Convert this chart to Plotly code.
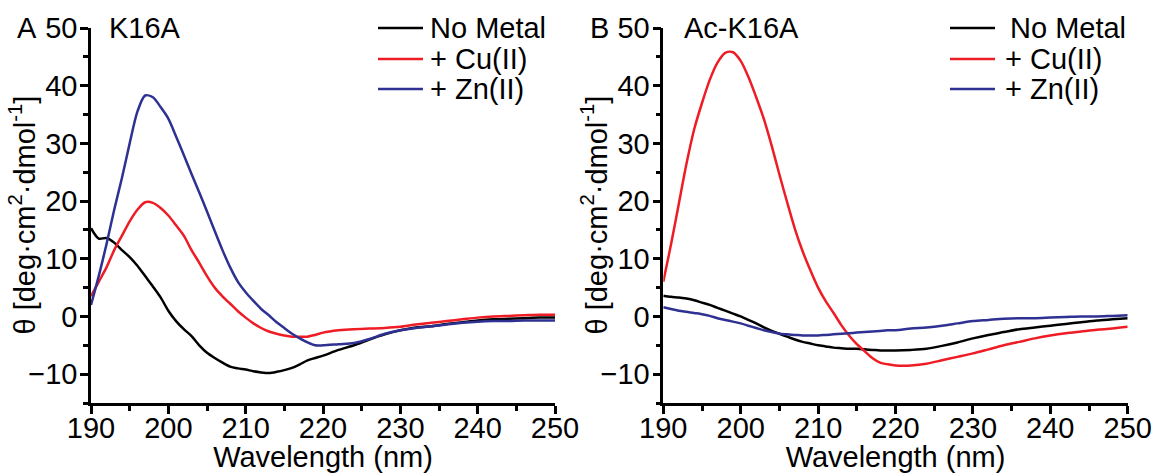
import plotly.graph_objects as go

# ---------------- data ----------------
wl = [190, 191, 192, 193, 194, 195, 196, 197, 198, 199, 200, 201, 202, 203, 204,
      205, 206, 207, 208, 209, 210, 211, 212, 213, 214, 215, 216, 217, 218, 219,
      220, 222, 224, 226, 228, 230, 232, 234, 236, 238, 240, 242, 244, 246, 248, 250]

# Panel A: K16A
a_none = [15.3, 13.5, 13.6, 12.8, 11.5, 10.3, 8.8, 7.0, 5.2, 3.3, 1.0, -0.8, -2.2, -3.4, -5.0,
          -6.3, -7.2, -8.0, -8.7, -9.0, -9.2, -9.5, -9.7, -9.8, -9.6, -9.3, -8.9, -8.3, -7.6, -7.2,
          -6.8, -5.8, -5.0, -4.0, -3.1, -2.4, -1.9, -1.7, -1.3, -1.0, -0.7, -0.5, -0.4, -0.3, -0.2, -0.2]
a_cu = [3.5, 6.0, 8.5, 11.5, 14.0, 16.5, 18.5, 19.8, 19.7, 18.8, 17.5, 15.8, 14.0, 11.5, 9.3,
        7.0, 5.0, 3.5, 2.2, 0.9, -0.2, -1.2, -2.0, -2.6, -3.0, -3.3, -3.5, -3.5, -3.5, -3.2,
        -2.8, -2.4, -2.2, -2.1, -2.0, -1.8, -1.4, -1.1, -0.8, -0.5, -0.2, 0.0, 0.1, 0.2, 0.3, 0.3]
a_zn = [2.0, 7.0, 12.5, 18.5, 24.0, 30.0, 35.5, 38.3, 38.0, 36.3, 34.3, 31.2, 28.0, 24.7, 21.5,
        18.2, 14.8, 11.5, 8.5, 6.0, 4.2, 2.7, 1.3, 0.2, -1.0, -2.0, -3.0, -3.8, -4.5, -5.0,
        -5.0, -4.8, -4.6, -3.9, -3.0, -2.4, -2.0, -1.7, -1.4, -1.1, -0.9, -0.8, -0.8, -0.7, -0.7, -0.7]

# Panel B: Ac-K16A
b_none = [3.6, 3.4, 3.3, 3.1, 2.8, 2.4, 2.0, 1.5, 1.0, 0.5, 0.0, -0.6, -1.2, -1.9, -2.5,
          -3.0, -3.5, -4.0, -4.4, -4.7, -5.0, -5.2, -5.4, -5.5, -5.6, -5.6, -5.7, -5.8, -5.9, -5.9,
          -5.9, -5.8, -5.6, -5.1, -4.5, -3.8, -3.2, -2.7, -2.2, -1.9, -1.6, -1.3, -1.0, -0.7, -0.5, -0.3]
b_cu = [6.0, 12.5, 19.5, 26.5, 32.5, 37.0, 41.0, 44.0, 45.7, 45.8, 44.3, 41.5, 38.0, 34.2, 29.6,
        24.6, 19.8, 15.2, 11.3, 8.0, 5.0, 2.6, 0.6, -1.5, -3.3, -4.8, -6.0, -7.2, -8.0, -8.3,
        -8.5, -8.5, -8.2, -7.6, -7.0, -6.4, -5.7, -5.0, -4.4, -3.8, -3.3, -2.9, -2.6, -2.3, -2.1, -1.8]
b_zn = [1.6, 1.3, 1.0, 0.8, 0.6, 0.4, 0.1, -0.3, -0.6, -0.9, -1.2, -1.6, -2.0, -2.4, -2.7,
        -3.0, -3.1, -3.2, -3.3, -3.3, -3.3, -3.2, -3.1, -3.0, -2.9, -2.8, -2.7, -2.6, -2.5, -2.4,
        -2.4, -2.1, -1.9, -1.6, -1.2, -0.8, -0.6, -0.4, -0.3, -0.3, -0.2, -0.1, 0.0, 0.0, 0.1, 0.2]

series_names = ["No Metal", "+ Cu(II)", "+ Zn(II)"]
panel_titles = ["K16A", "Ac-K16A"]
panel_letters = ["A", "B"]
x_title = "Wavelength (nm)"
y_title = "θ [deg·cm<sup>2</sup>·dmol<sup>-1</sup>]"

# ---------------- styling ----------------
W, H = 1157, 473
FONT = "Arial, 'Liberation Sans', sans-serif"
FS = 29
colors = ["#000000", "#ee1c25", "#2e3192"]

fig = go.Figure()
panels = [(a_none, a_cu, a_zn), (b_none, b_cu, b_zn)]
for p, data in enumerate(panels):
    xa = "x" if p == 0 else "x2"
    ya = "y" if p == 0 else "y2"
    for s, ys in enumerate(data):
        fig.add_trace(go.Scatter(x=wl, y=ys, mode="lines", xaxis=xa, yaxis=ya,
                                 line=dict(color=colors[s], width=2.5, shape="spline", smoothing=0.8),
                                 showlegend=False, name=series_names[s]))

def px_x(v):
    return v / W

def px_y(v):
    return 1 - v / H

ydom = [px_y(403), px_y(28)]
xdoms = [[px_x(91), px_x(555)], [px_x(663.3), px_x(1127.7)]]

axis_common = dict(showline=True, linecolor="black", linewidth=2.5, ticks="outside",
                   ticklen=8, tickwidth=2.5, tickcolor="black", showgrid=False, zeroline=False,
                   automargin=False,
                   tickfont=dict(family=FONT, size=FS, color="black"),
                   title_font=dict(family=FONT, size=FS, color="black"))

for p in range(2):
    sfx = "" if p == 0 else "2"
    fig.update_layout(**{
        "xaxis" + sfx: dict(axis_common, domain=xdoms[p], range=[190, 250], dtick=10, tick0=190,
                            anchor="y" + sfx, title=dict(text=x_title, standoff=0),
                            ticklabelstandoff=-11,
                            minor=dict(dtick=5, ticklen=5, tickwidth=2.5, tickcolor="black", ticks="outside")),
        "yaxis" + sfx: dict(axis_common, domain=ydom, range=[-15, 50], dtick=10, tick0=0,
                            anchor="x" + sfx, ticklabelstandoff=-3,
                            minor=dict(dtick=5, ticklen=5, tickwidth=2.5, tickcolor="black", ticks="outside")),
    })

annotations = []
shapes = []
letter_x = [15, 588]
title_x = [107, 682]
ytitle_x = [23, 595]
for p in range(2):
    annotations.append(dict(text=panel_letters[p], x=px_x(letter_x[p]), y=px_y(28), xref="paper", yref="paper",
                            xanchor="left", yanchor="middle", showarrow=False,
                            font=dict(family=FONT, size=FS, color="black")))
    annotations.append(dict(text=panel_titles[p], x=px_x(title_x[p]), y=px_y(28), xref="paper", yref="paper",
                            xanchor="left", yanchor="middle", showarrow=False,
                            font=dict(family=FONT, size=FS, color="black")))
    annotations.append(dict(text=y_title, x=px_x(ytitle_x[p]), y=px_y(215.5), xref="paper", yref="paper",
                            xanchor="center", yanchor="middle", textangle=-90, showarrow=False,
                            font=dict(family=FONT, size=FS, color="black")))

# legends (drawn per panel)
leg_line = [(378, 423), (950, 995)]
leg_text = [[428, 428, 428], [1008, 1003, 1003]]
leg_rows = [28, 59, 89]
for p in range(2):
    for s in range(3):
        shapes.append(dict(type="line", xref="paper", yref="paper",
                           x0=px_x(leg_line[p][0]), x1=px_x(leg_line[p][1]),
                           y0=px_y(leg_rows[s]), y1=px_y(leg_rows[s]),
                           line=dict(color=colors[s], width=2.5)))
        annotations.append(dict(text=series_names[s], x=px_x(leg_text[p][s]), y=px_y(leg_rows[s]),
                                xref="paper", yref="paper", xanchor="left", yanchor="middle",
                                showarrow=False, font=dict(family=FONT, size=FS, color="black")))

fig.update_layout(width=W, height=H, margin=dict(l=0, r=0, t=0, b=0),
                  paper_bgcolor="white", plot_bgcolor="white",
                  annotations=annotations, shapes=shapes, showlegend=False,
                  font=dict(family=FONT, size=FS, color="black"))

fig.write_html("out.html")
